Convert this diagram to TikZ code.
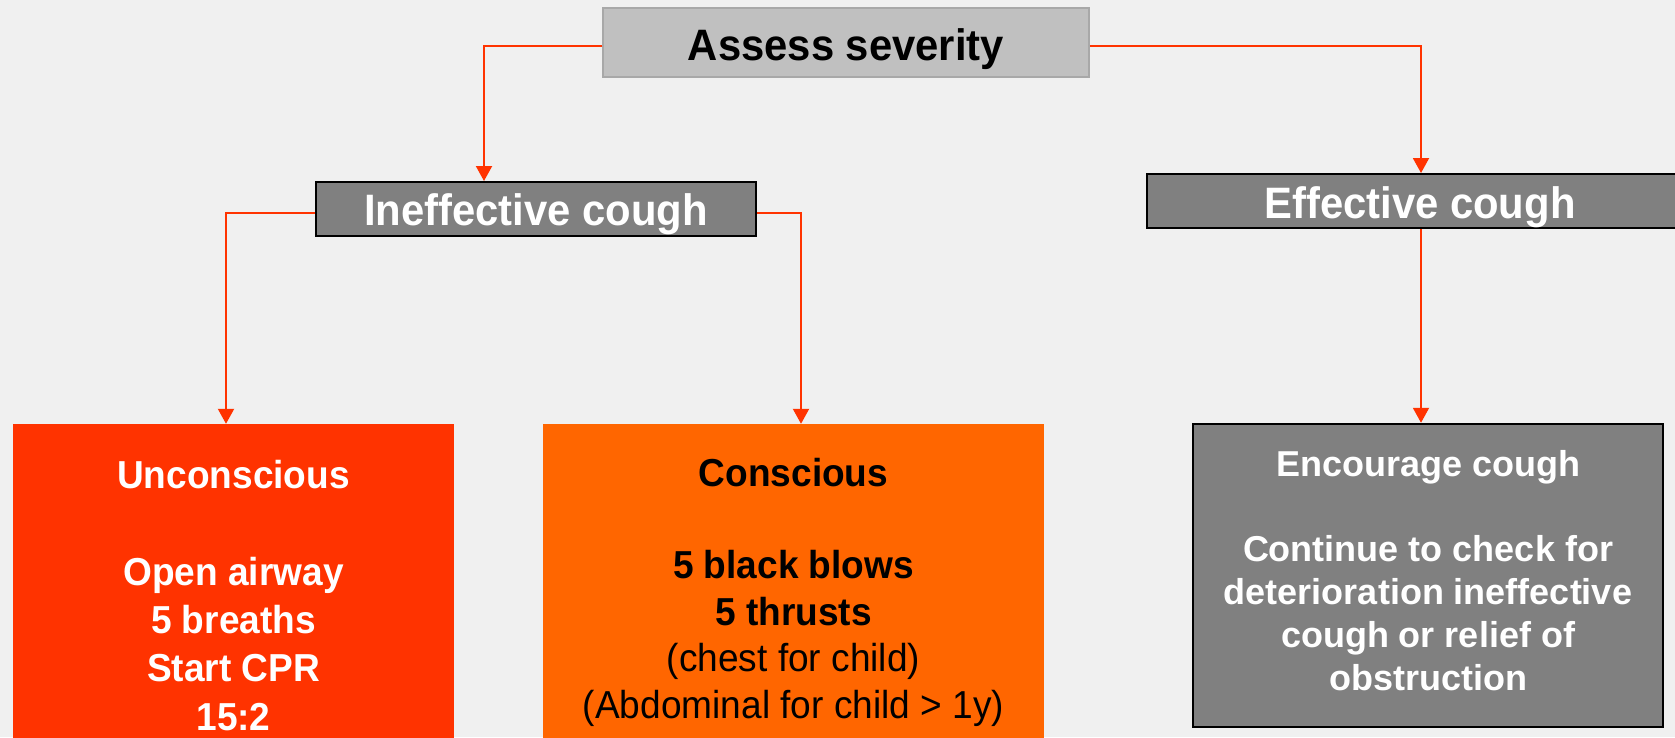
\documentclass[tikz,border=0pt]{standalone}
\usepackage{fontspec}
\setmainfont{Liberation Sans}
\newfontfamily\nf[FakeStretch=0.95]{Liberation Sans}
\usetikzlibrary{arrows.meta}
\definecolor{bg}{HTML}{F0F0F0}
\definecolor{lightbox}{HTML}{C0C0C0}
\definecolor{lightedge}{HTML}{A8A8A8}
\definecolor{darkbox}{HTML}{808080}
\definecolor{redbox}{HTML}{FF3300}
\definecolor{orangebox}{HTML}{FF6600}
\definecolor{arrowred}{HTML}{FF3300}
\tikzset{
  conn/.style={draw=arrowred, line width=2pt, -{Triangle[width=16pt,length=15pt]}},
  lbox/.style={fill=lightbox, draw=lightedge, line width=1.5pt, inner sep=0pt},
  dbox/.style={fill=darkbox, draw=black, line width=2pt, inner sep=0pt},
  cbox/.style={inner sep=0pt, draw=none},
  lab/.style={inner sep=0pt, anchor=base, align=center},
}
\begin{document}
\begin{tikzpicture}[x=1pt,y=-1pt]
\useasboundingbox (0,0) rectangle (1675,737);
\fill[bg] (0,0) rectangle (1675,737);
\clip (0,0) rectangle (1675,737);

% boxes
\node[lbox, minimum width=486pt, minimum height=69pt] (A) at (846,42.5) {};
\node[dbox, minimum width=440pt, minimum height=54pt] (I) at (536,209) {};
\node[dbox, minimum width=548pt, minimum height=54pt] (E) at (1421,201) {};
\node[cbox, fill=redbox, minimum width=441pt, minimum height=336pt] (U) at (233.5,592) {};
\node[cbox, fill=orangebox, minimum width=501pt, minimum height=336pt] (C) at (793.5,592) {};
\node[dbox, line width=2.5pt, minimum width=470pt, minimum height=303pt] (G) at (1428,575.5) {};

% labels (base anchor = baseline of the last line)
\node[lab, text=black, font=\nf\bfseries\fontsize{44}{50}\selectfont] (At) at (846,60) {Assess severity};
\node[lab, text=white, font=\nf\bfseries\fontsize{44}{50}\selectfont] (It) at (536,225) {Ineffective cough};
\node[lab, text=white, font=\nf\bfseries\fontsize{44}{50}\selectfont] (Et) at (1420,218) {Effective cough};
\node[lab, text=white, font=\nf\bfseries\fontsize{39}{48.3}\selectfont] (Ut) at (233.5,730)
  {Unconscious\\[48.3pt]Open airway\\5 breaths\\Start CPR\\15:2};
\node[lab, text=black, font=\nf\fontsize{39}{46.4}\selectfont] (Ct) at (793.5,718)
  {\bfseries Conscious\\[46.4pt]\bfseries 5 black blows\\\bfseries 5 thrusts\\(chest for child)\\(Abdominal for child > 1y)};
\node[lab, text=white, font=\bfseries\fontsize{36}{42.8}\selectfont] (Gt) at (1428,690)
  {Encourage cough\\[42.8pt]Continue to check for\\deterioration ineffective\\cough or relief of\\obstruction};

% connectors
\draw[conn] ([yshift=-3pt]A.west) -| ([xshift=-52pt]I.north);
\draw[conn] ([yshift=-3pt]A.east) -| (E.north);
\draw[conn] ([yshift=-4pt]I.west) -| ([xshift=-7.5pt]U.north);
\draw[conn] ([yshift=-4pt]I.east) -| ([xshift=7.5pt]C.north);
\draw[conn] (E.south) -- (E.south |- G.north);
\end{tikzpicture}
\end{document}
